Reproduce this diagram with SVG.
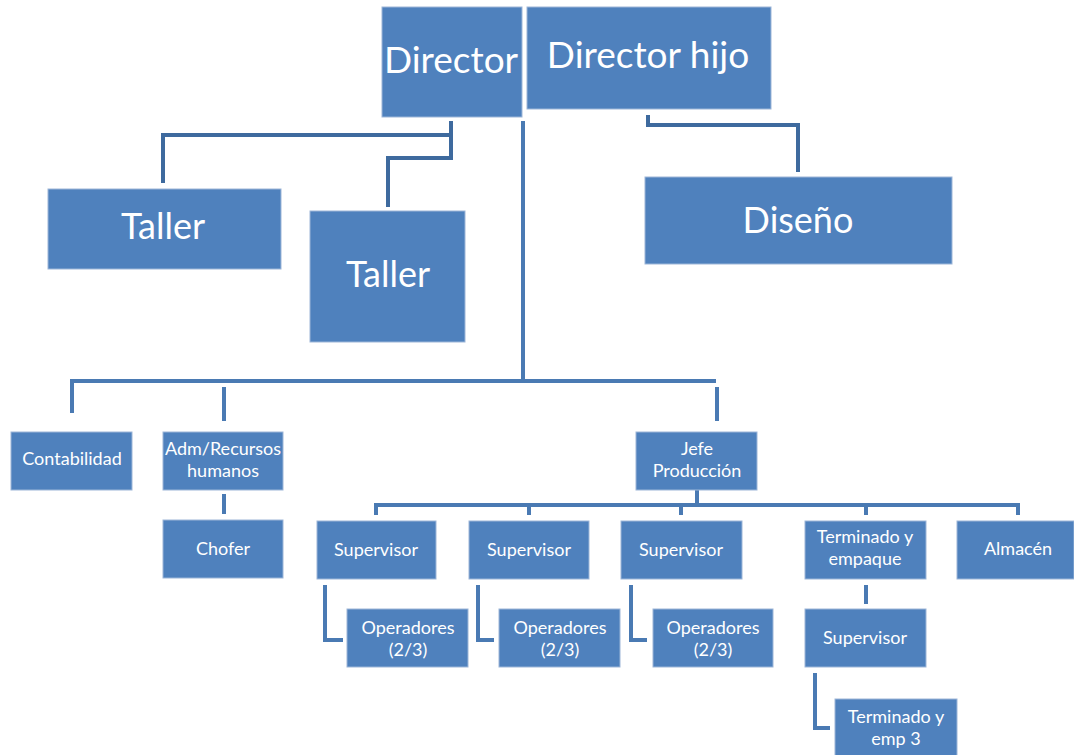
<svg xmlns="http://www.w3.org/2000/svg" width="1074" height="755" viewBox="0 0 1074 755">
<style>
.box{fill:#4F81BD;stroke:#9DB6D8;stroke-width:1}
.t{fill:#fff;font-family:Lato,"Open Sans","Liberation Sans",sans-serif;text-anchor:middle}
.big{font-size:37px}
.mid{font-size:36px}
.sm{font-size:18px}
.c{fill:none;stroke:#3E6A9E;stroke-width:4;stroke-linejoin:miter}
.c2{fill:none;stroke:#4A7AB3;stroke-width:4}
</style>
<rect width="1074" height="755" fill="#fff"/>
<g id="connectors">
<polyline class="c" points="451,121 451,135 163,135 163,183"/>
<polyline class="c" points="451,135 451,158 388,158 388,207"/>
<polyline class="c" points="648,115 648,125 798,125 798,172"/>
<polyline class="c2" points="523,121 523,381"/>
<polyline class="c2" points="72,413 72,381 716,381"/>
<line class="c2" x1="224" y1="387" x2="224" y2="421"/>
<line class="c2" x1="717" y1="387" x2="717" y2="421"/>
<line class="c2" x1="224" y1="494" x2="224" y2="514"/>
<line class="c2" x1="697" y1="490" x2="697" y2="505"/>
<polyline class="c2" points="376,515 376,505 1018,505 1018,515"/>
<line class="c2" x1="529" y1="505" x2="529" y2="515"/>
<line class="c2" x1="681" y1="505" x2="681" y2="515"/>
<line class="c2" x1="866" y1="505" x2="866" y2="515"/>
<polyline class="c2" points="325,585 325,640 343,640"/>
<polyline class="c2" points="478,585 478,640 494,640"/>
<polyline class="c2" points="631,585 631,640 647,640"/>
<line class="c2" x1="866" y1="585" x2="866" y2="604"/>
<polyline class="c2" points="815,673 815,728 830,728"/>
</g>
<g id="director"><rect class="box" x="382" y="7" width="140" height="110"/><text class="t big" x="451" y="73">Director</text></g>
<g id="director-hijo"><rect class="box" x="527" y="7" width="244" height="102"/><text class="t big" x="648" y="68">Director hijo</text></g>
<g id="taller1"><rect class="box" x="48" y="189" width="233" height="80"/><text class="t mid" x="163" y="239">Taller</text></g>
<g id="taller2"><rect class="box" x="310" y="211" width="155" height="131"/><text class="t mid" x="388" y="287">Taller</text></g>
<g id="diseno"><rect class="box" x="645" y="177" width="307" height="87"/><text class="t mid" x="798" y="233">Diseño</text></g>
<g id="contabilidad"><rect class="box" x="11" y="432" width="121" height="58"/><text class="t sm" x="72" y="465">Contabilidad</text></g>
<g id="adm"><rect class="box" x="163" y="432" width="120" height="58"/><text class="t sm" x="223" y="455">Adm/Recursos</text><text class="t sm" x="223" y="477">humanos</text></g>
<g id="jefe"><rect class="box" x="636" y="432" width="121" height="58"/><text class="t sm" x="697" y="455">Jefe</text><text class="t sm" x="697" y="477">Producción</text></g>
<g id="chofer"><rect class="box" x="163" y="520" width="120" height="58"/><text class="t sm" x="223" y="555">Chofer</text></g>
<g id="sup1"><rect class="box" x="317" y="521" width="119" height="58"/><text class="t sm" x="376" y="556">Supervisor</text></g>
<g id="sup2"><rect class="box" x="469" y="521" width="120" height="58"/><text class="t sm" x="529" y="556">Supervisor</text></g>
<g id="sup3"><rect class="box" x="621" y="521" width="121" height="58"/><text class="t sm" x="681" y="556">Supervisor</text></g>
<g id="terminado"><rect class="box" x="805" y="521" width="121" height="58"/><text class="t sm" x="865" y="543">Terminado y</text><text class="t sm" x="865" y="565">empaque</text></g>
<g id="almacen"><rect class="box" x="957" y="521" width="117" height="58"/><text class="t sm" x="1018" y="555">Almacén</text></g>
<g id="op1"><rect class="box" x="347" y="609" width="121" height="58"/><text class="t sm" x="408" y="634">Operadores</text><text class="t sm" x="408" y="656">(2/3)</text></g>
<g id="op2"><rect class="box" x="499" y="609" width="121" height="58"/><text class="t sm" x="560" y="634">Operadores</text><text class="t sm" x="560" y="656">(2/3)</text></g>
<g id="op3"><rect class="box" x="653" y="609" width="120" height="58"/><text class="t sm" x="713" y="634">Operadores</text><text class="t sm" x="713" y="656">(2/3)</text></g>
<g id="sup4"><rect class="box" x="805" y="609" width="121" height="58"/><text class="t sm" x="865" y="644">Supervisor</text></g>
<g id="terminado3"><rect class="box" x="835" y="699" width="122" height="60"/><text class="t sm" x="896" y="723">Terminado y</text><text class="t sm" x="896" y="745">emp 3</text></g>
</svg>
